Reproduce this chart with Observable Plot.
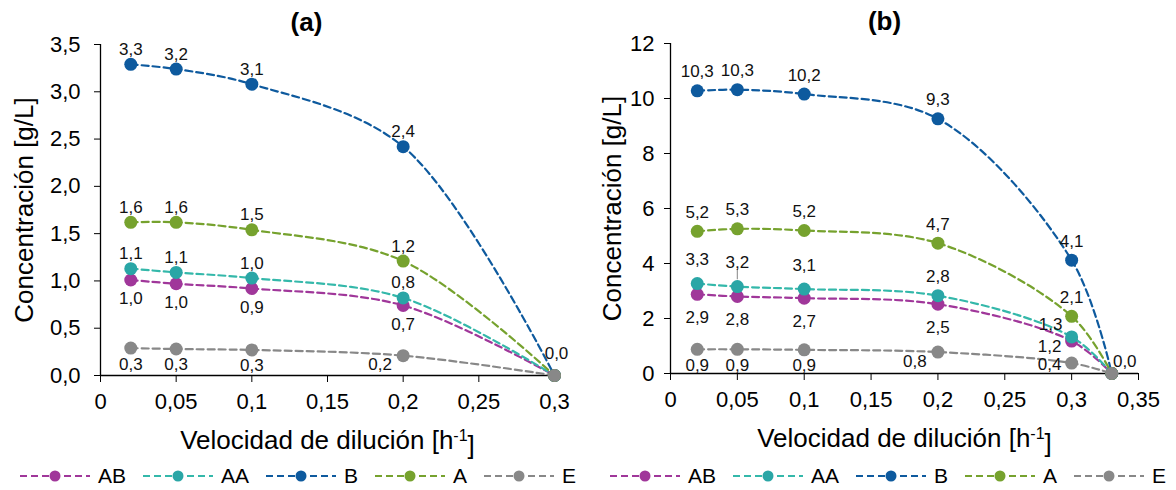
<!DOCTYPE html>
<html><head><meta charset="utf-8">
<script src="https://cdn.jsdelivr.net/npm/d3@7"></script>
<script src="https://cdn.jsdelivr.net/npm/@observablehq/plot@0.6"></script>
<style>
body{margin:0;background:#fff;font-family:"Liberation Sans",Arial,sans-serif;}
#wrap{position:relative;width:1176px;height:490px;overflow:hidden;}
.panel{position:absolute;top:0;height:490px;}
.legend{position:absolute;top:465px;left:20px;height:22px;display:flex;align-items:center;font-size:21px;color:#000;white-space:nowrap;}
.legend .item{display:flex;align-items:center;margin-right:17px;}
.legend svg{margin-right:8px;}
</style></head><body><div id="wrap"></div>
<script>
// ---------- data ----------
const series = ["AB", "AA", "B", "A", "E"];
const lineColors = ["#A0379A", "#34B8AA", "#0E5A9E", "#76A22E", "#888888"];
const dotColors  = ["#A0379A", "#2AA6A6", "#0E5A9E", "#76A22E", "#888888"];

// panel (a)
const xA = [0.02, 0.05, 0.1, 0.2, 0.3];
const aAB = [1.01, 0.97, 0.92, 0.74, 0];
const aAA = [1.13, 1.09, 1.03, 0.82, 0];
const aB  = [3.29, 3.24, 3.08, 2.42, 0];
const aA  = [1.62, 1.62, 1.54, 1.21, 0];
const aE  = [0.29, 0.28, 0.27, 0.21, 0];
const xTicksA = [0, 0.05, 0.1, 0.15, 0.2, 0.25, 0.3];
const yTicksA = [0, 0.5, 1, 1.5, 2, 2.5, 3, 3.5];

// panel (b)
const xB = [0.02, 0.05, 0.1, 0.2, 0.3, 0.33];
const bAB = [2.88, 2.80, 2.74, 2.52, 1.18, 0];
const bAA = [3.27, 3.16, 3.07, 2.83, 1.33, 0];
const bB  = [10.28, 10.32, 10.16, 9.26, 4.12, 0];
const bA  = [5.17, 5.26, 5.20, 4.74, 2.08, 0];
const bE  = [0.88, 0.88, 0.86, 0.78, 0.38, 0];
const xTicksB = [0, 0.05, 0.1, 0.15, 0.2, 0.25, 0.3, 0.35];
const yTicksB = [0, 2, 4, 6, 8, 10, 12];

const yLabel = "Concentración [g/L]";
const xLabel = "Velocidad de dilución [h-1]";

// ---------- label placement (style, not data) ----------
const offsets = {
  above: [0, -15], above2: [0, -19], above3: [0, -24],
  below: [0, 19], below2: [0, 16], below3: [0, 23],
  left: [-23, 9], leftUp: [-21, -12], leftLevel: [-22, 1], leftLow: [-22, 5],
  zeroA: [2, -22], zeroB: [13, -12], none: null
};
const placeA = {
  AB: ["below", "below", "below", "below", "none"],
  AA: ["above", "above", "above", "above", "none"],
  B:  ["above", "above", "above", "above", "none"],
  A:  ["above", "above", "above", "above", "none"],
  E:  ["below2", "below2", "below2", "left", "zeroA"]
};
const placeB = {
  AB: ["below3", "below3", "below3", "below3", "leftLow", "none"],
  AA: ["above3", "above3", "above3", "above2", "leftUp", "none"],
  B:  ["above2", "above2", "above2", "above2", "above2", "none"],
  A:  ["above2", "above2", "above2", "above2", "above2", "none"],
  E:  ["below2", "below2", "below2", "left", "leftLevel", "zeroB"]
};

const fmt = v => String(+v.toFixed(2)).replace(".", ",");
const fmt1 = v => v.toFixed(1).replace(".", ",");

function rowsFor(xs, arrs, place) {
  const rows = [];
  series.forEach((s, si) => arrs[si].forEach((v, i) => rows.push({series: s, x: xs[i], y: v, label: fmt1(v), place: place[s][i]})));
  return rows;
}

function makePanel(o) {
  const marks = [
    Plot.axisX({ticks: o.xTicks, tickFormat: fmt, tickSize: 7, tickPadding: 11, fontSize: 22, label: null}),
    Plot.axisY({ticks: o.yTicks, tickFormat: o.yFormat, tickSize: 6, tickPadding: o.tickPad, fontSize: 22, label: null}),
    Plot.ruleY([0], {stroke: "#000", strokeWidth: 1.3}),
    Plot.ruleX([0], {stroke: "#000", strokeWidth: 1.3})
  ];
  series.forEach((s, si) => {
    const d = o.rows.filter(r => r.series === s);
    marks.push(Plot.line(d, {x: "x", y: "y", stroke: lineColors[si], strokeWidth: 2.2, strokeDasharray: "7,4", curve: "catmull-rom"}));
    marks.push(Plot.dot(d, {x: "x", y: "y", r: 6.5, fill: dotColors[si], stroke: "none"}));
  });
  if (o.leader) marks.push(Plot.ruleX(o.leader, {x: "x", y1: d => d.y + 0.25, y2: d => d.y + 0.62, stroke: "#999", strokeWidth: 1.2}));
  Object.entries(offsets).forEach(([k, off]) => {
    if (!off) return;
    const d = o.rows.filter(r => r.place === k);
    if (d.length) marks.push(Plot.text(d, {x: "x", y: "y", text: "label", dx: off[0], dy: off[1], fontSize: 17, fill: "#111"}));
  });
  marks.push(Plot.text([o.title], {frameAnchor: "top", text: d => d, dx: o.titleDx, dy: -22, lineAnchor: "middle", fontSize: 26, fontWeight: "bold"}));
  marks.push(Plot.text([yLabel], {frameAnchor: "left", text: d => d, rotate: -90, dx: o.yLabelDx, textAnchor: "middle", lineAnchor: "middle", fontSize: 26}));
  marks.push(Plot.text([xLabel], {frameAnchor: "bottom", text: d => d, dy: 65, textAnchor: "middle", lineAnchor: "middle", fontSize: 26}));

  const svg = Plot.plot({
    width: o.width, height: 455,
    marginLeft: o.ml, marginRight: o.mr, marginTop: o.mt, marginBottom: 455 - o.y0,
    x: {domain: o.xDomain}, y: {domain: o.yDomain},
    style: {fontFamily: "Liberation Sans, Arial, sans-serif", fontSize: "22px", color: "#000", background: "transparent", overflow: "visible"},
    marks
  });
  d3.select(svg).selectAll("text").filter(function() { return this.textContent === xLabel; }).each(function() {
    const t = d3.select(this);
    t.text(null);
    t.append("tspan").text("Velocidad de dilución [h");
    t.append("tspan").attr("dy", "-0.5em").attr("font-size", "16px").text("-1");
    t.append("tspan").attr("dy", "0.5em").text("]");
  });
  return svg;
}

function legend() {
  const div = document.createElement("div");
  div.className = "legend";
  series.forEach((s, si) => {
    const item = document.createElement("div");
    item.className = "item";
    item.innerHTML = `<svg width="70" height="14"><line x1="0" x2="70" y1="7" y2="7" stroke="${lineColors[si]}" stroke-width="2.2" stroke-dasharray="7,4"/><circle cx="35" cy="7" r="5.5" fill="${dotColors[si]}"/></svg><span>${s}</span>`;
    div.appendChild(item);
  });
  return div;
}

const wrap = document.getElementById("wrap");
const specs = [
  {left: 0, width: 590, ml: 100, mr: 36, mt: 44, y0: 375, xDomain: [0, 0.3], yDomain: [0, 3.5],
   xTicks: xTicksA, yTicks: yTicksA, yFormat: v => v.toFixed(1).replace(".", ","), tickPad: 14,
   rows: rowsFor(xA, [aAB, aAA, aB, aA, aE], placeA), title: "(a)", titleDx: -21, yLabelDx: -76},
  {left: 590, width: 586, ml: 80, mr: 38, mt: 43, y0: 373, xDomain: [0, 0.35], yDomain: [0, 12],
   xTicks: xTicksB, yTicks: yTicksB, yFormat: v => String(v), tickPad: 10,
   rows: rowsFor(xB, [bAB, bAA, bB, bA, bE], placeB), title: "(b)", titleDx: -20, yLabelDx: -58,
   leader: [{x: xB[1], y: bAA[1]}]}
];
specs.forEach(sp => {
  const p = document.createElement("div");
  p.className = "panel";
  p.style.left = sp.left + "px";
  p.style.width = sp.width + "px";
  p.appendChild(makePanel(sp));
  p.appendChild(legend());
  wrap.appendChild(p);
});
</script></body></html>
